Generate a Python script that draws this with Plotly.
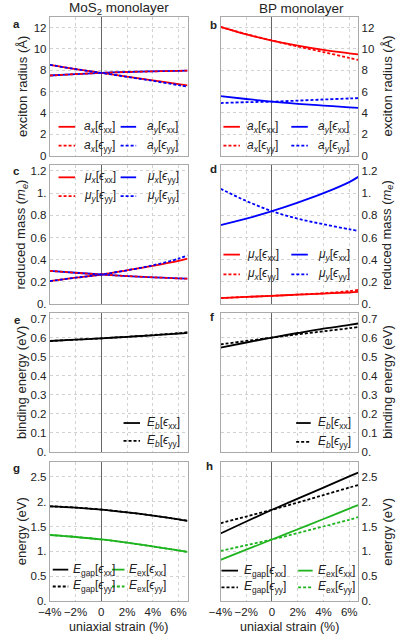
import plotly.graph_objects as go

# ── data ────────────────────────────────────────────────────────────────────
strain = [-4, -2, 0, 2, 4, 6, 6.7]

# exciton radius (Å)
mos2_ax_xx = [8.5, 8.1, 7.75, 7.4, 7.05, 6.7, 6.58]
mos2_ax_yy = [7.5, 7.63, 7.75, 7.83, 7.89, 7.94, 7.96]
mos2_ay_xx = [7.5, 7.63, 7.75, 7.83, 7.89, 7.94, 7.96]
mos2_ay_yy = [8.5, 8.1, 7.75, 7.38, 7.0, 6.6, 6.45]
bp_ax_xx = [12.05, 11.35, 10.78, 10.3, 9.9, 9.58, 9.48]
bp_ax_yy = [12.05, 11.38, 10.78, 10.22, 9.7, 9.15, 8.96]
bp_ay_xx = [5.57, 5.3, 5.05, 4.85, 4.68, 4.52, 4.47]
bp_ay_yy = [4.92, 5.0, 5.05, 5.15, 5.25, 5.35, 5.38]

# reduced mass (m_e)
mos2_mux_xx = [0.208, 0.238, 0.267, 0.305, 0.345, 0.39, 0.41]
mos2_mux_yy = [0.30, 0.283, 0.267, 0.253, 0.242, 0.232, 0.229]
mos2_muy_yy_r = [0.30, 0.283, 0.267, 0.253, 0.242, 0.232, 0.229]
mos2_muy_yy_b = [0.208, 0.238, 0.267, 0.305, 0.35, 0.41, 0.44]
bp_mux_xx = [0.055, 0.065, 0.075, 0.085, 0.095, 0.105, 0.11]
bp_mux_yy = [0.055, 0.065, 0.075, 0.086, 0.098, 0.118, 0.128]
bp_muy_xx = [0.712, 0.77, 0.838, 0.915, 1.0, 1.1, 1.147]
bp_muy_yy = [1.04, 0.93, 0.838, 0.77, 0.72, 0.675, 0.66]

# binding energy (eV)
mos2_eb_xx = [0.583, 0.59, 0.597, 0.605, 0.613, 0.622, 0.626]
mos2_eb_yy = [0.583, 0.59, 0.597, 0.605, 0.614, 0.624, 0.629]
bp_eb_xx = [0.548, 0.575, 0.601, 0.625, 0.648, 0.668, 0.675]
bp_eb_yy = [0.565, 0.583, 0.601, 0.618, 0.634, 0.65, 0.656]

# energy (eV)
mos2_gap_xx = [1.905, 1.88, 1.84, 1.785, 1.72, 1.645, 1.615]
mos2_gap_yy = [1.905, 1.88, 1.84, 1.785, 1.72, 1.645, 1.615]
mos2_ex_xx = [1.33, 1.29, 1.24, 1.175, 1.1, 1.02, 0.99]
mos2_ex_yy = [1.33, 1.29, 1.24, 1.175, 1.1, 1.02, 0.99]
bp_gap_xx = [1.36, 1.60, 1.835, 2.06, 2.28, 2.505, 2.58]
bp_gap_yy = [1.565, 1.70, 1.835, 1.98, 2.13, 2.28, 2.33]
bp_ex_xx = [0.83, 1.035, 1.24, 1.445, 1.65, 1.86, 1.93]
bp_ex_yy = [1.01, 1.125, 1.24, 1.37, 1.5, 1.635, 1.69]

x_tickvals = [-4, -2, 0, 2, 4, 6]
x_ticktext = ["−4%", "−2%", "0", "2%", "4%", "6%"]
y_ticks = [
    ([0, 2, 4, 6, 8, 10, 12], ["0", "2", "4", "6", "8", "10", "12"]),
    ([0, 0.2, 0.4, 0.6, 0.8, 1.0, 1.2], ["0.", "0.2", "0.4", "0.6", "0.8", "1.", "1.2"]),
    ([0, 0.1, 0.2, 0.3, 0.4, 0.5, 0.6, 0.7], ["0.", "0.1", "0.2", "0.3", "0.4", "0.5", "0.6", "0.7"]),
    ([0, 0.5, 1.0, 1.5, 2.0, 2.5], ["0.", "0.5", "1.", "1.5", "2.", "2.5"]),
]
y_ranges = [13, 1.25, 0.73, 2.8]
y_titles = ["exciton radius (Å)", "reduced mass (<i>m<sub>e</sub></i>)",
            "binding energy (eV)", "energy (eV)"]

# ── estilo ──────────────────────────────────────────────────────────────────
W, H = 398, 643
FONT = "Liberation Sans, Arial, sans-serif"
RED, BLUE, BLACK, GREEN = "#ff0000", "#0000ff", "#000000", "#1fb41f"
DASH = "3px,2px"
COLS = [(39, 181), (215, 357)]
ROWS = [(17, 157), (167, 307), (316, 456), (466, 607)]
TICK_SIZE = 11.5
LEG_SIZE = 12


def px_x(p):
    return p / W


def px_y(p):
    return 1 - p / H


fig = go.Figure()

# panel index: 1=a 2=b 3=c 4=d 5=e 6=f 7=g 8=h
series = [
    (1, mos2_ax_xx, RED, "solid"), (1, mos2_ay_xx, BLUE, "solid"),
    (1, mos2_ax_yy, RED, DASH), (1, mos2_ay_yy, BLUE, DASH),
    (2, bp_ax_xx, RED, "solid"), (2, bp_ay_xx, BLUE, "solid"),
    (2, bp_ax_yy, RED, DASH), (2, bp_ay_yy, BLUE, DASH),
    (3, mos2_mux_xx, RED, "solid"), (3, mos2_mux_yy, BLUE, "solid"),
    (3, mos2_muy_yy_r, RED, DASH), (3, mos2_muy_yy_b, BLUE, DASH),
    (4, bp_mux_xx, RED, "solid"), (4, bp_muy_xx, BLUE, "solid"),
    (4, bp_mux_yy, RED, DASH), (4, bp_muy_yy, BLUE, DASH),
    (5, mos2_eb_xx, BLACK, "solid"), (5, mos2_eb_yy, BLACK, DASH),
    (6, bp_eb_xx, BLACK, "solid"), (6, bp_eb_yy, BLACK, DASH),
    (7, mos2_gap_xx, BLACK, "solid"), (7, mos2_ex_xx, GREEN, "solid"),
    (7, mos2_gap_yy, BLACK, DASH), (7, mos2_ex_yy, GREEN, DASH),
    (8, bp_gap_xx, BLACK, "solid"), (8, bp_ex_xx, GREEN, "solid"),
    (8, bp_gap_yy, BLACK, DASH), (8, bp_ex_yy, GREEN, DASH),
]
for p, ys, color, dash in series:
    sfx = "" if p == 1 else str(p)
    fig.add_trace(go.Scatter(
        x=strain, y=ys, mode="lines", line_shape="spline",
        line=dict(color=color, width=1.8, dash=dash),
        xaxis="x" + sfx, yaxis="y" + sfx, showlegend=False, hoverinfo="skip",
    ))

layout = dict(
    width=W, height=H, margin=dict(l=0, r=0, t=0, b=0),
    paper_bgcolor="white", plot_bgcolor="white",
    font=dict(family=FONT, size=TICK_SIZE, color="#222"),
    showlegend=False,
)
for p in range(1, 9):
    r, c = (p - 1) // 2, (p - 1) % 2
    sfx = "" if p == 1 else str(p)
    x0, x1 = COLS[c]
    y0, y1 = ROWS[r]
    layout["xaxis" + sfx] = dict(
        domain=[px_x(x0), px_x(x1)], range=[-4, 6.7], anchor="y" + sfx,
        tickvals=x_tickvals, ticktext=x_ticktext, showticklabels=(r == 3),
        showgrid=True, gridcolor="#d2d2d2", griddash="dot", gridwidth=1,
        zeroline=True, zerolinecolor="#666", zerolinewidth=1,
        showline=True, linecolor="#aaaaaa", linewidth=1, mirror=True,
        ticks="", tickfont=dict(size=TICK_SIZE, color="#222"),
    )
    layout["yaxis" + sfx] = dict(
        domain=[px_y(y1), px_y(y0)], range=[0, y_ranges[r]], anchor="x" + sfx,
        tickvals=y_ticks[r][0], ticktext=y_ticks[r][1],
        side="left" if c == 0 else "right",
        showgrid=True, gridcolor="#d2d2d2", griddash="dot", gridwidth=1,
        zeroline=False, showline=True, linecolor="#aaaaaa", linewidth=1,
        mirror=True, ticks="", tickfont=dict(size=TICK_SIZE, color="#222"),
    )
fig.update_layout(**layout)

ann = []
shapes = []


def text(x, y, s, size=12, xanchor="center", angle=0, bold=False):
    if bold:
        s = "<b>" + s + "</b>"
    ann.append(dict(x=px_x(x), y=px_y(y), xref="paper", yref="paper", text=s,
                    showarrow=False, xanchor=xanchor, yanchor="middle",
                    textangle=angle, font=dict(family=FONT, size=size, color="#222")))


def leg(x0, x1, y, color, dash, label, xt):
    shapes.append(dict(type="line", xref="paper", yref="paper",
                       x0=px_x(x0), x1=px_x(x1), y0=px_y(y), y1=px_y(y),
                       line=dict(color=color, width=1.8, dash=dash)))
    text(xt, y, label, size=LEG_SIZE, xanchor="left")


def lab(sym, sub, eps):
    return f"<i>{sym}</i><sub>{sub}</sub>[<i>ϵ</i><sub>{eps}</sub>]"


# titles, panel letters, axis titles
text(110, 9, "MoS<sub>2</sub> monolayer", size=13.5)
text(298, 9, "BP monolayer", size=13.5)
for s, (x, y) in zip("abcdefgh", [(5, 24), (208, 25), (5, 173), (208, 171),
                                   (5, 323), (206, 320), (5, 472), (204, 470)]):
    text(x, y, s, size=11.5, bold=True)
for r in range(4):
    yc = (ROWS[r][0] + ROWS[r][1]) / 2
    text(10, yc, y_titles[r], size=13, angle=-90)
    text(387, yc, y_titles[r], size=13, angle=-90)
text(110, 633, "uniaxial strain (%)", size=12.5)
text(286, 633, "uniaxial strain (%)", size=12.5)

# legends
for y, l1, l2, d in [(128, ("a", "<i>x</i>", "xx"), ("a", "<i>y</i>", "xx"), "solid"),
                     (147, ("a", "<i>x</i>", "yy"), ("a", "<i>y</i>", "yy"), DASH)]:
    leg(48, 65, y, RED, d, lab(*l1), 72)
    leg(112, 128, y, BLUE, d, lab(*l2), 137)
    leg(218, 235, y, RED, d, lab(*l1), 240)
    leg(288, 305, y, BLUE, d, lab(*l2), 313)

leg(48, 65, 179, RED, "solid", lab("μ", "<i>x</i>", "xx"), 72)
leg(112, 128, 179, BLUE, "solid", lab("μ", "<i>x</i>", "yy"), 137)
leg(48, 65, 198, RED, DASH, lab("μ", "<i>y</i>", "yy"), 72)
leg(112, 128, 198, BLUE, DASH, lab("μ", "<i>y</i>", "yy"), 137)

leg(218, 235, 257, RED, "solid", lab("μ", "<i>x</i>", "xx"), 240)
leg(288, 305, 257, BLUE, "solid", lab("μ", "<i>y</i>", "xx"), 313)
leg(218, 235, 277, RED, DASH, lab("μ", "<i>x</i>", "yy"), 240)
leg(288, 305, 277, BLUE, DASH, lab("μ", "<i>y</i>", "yy"), 313)

leg(115, 132, 427, BLACK, "solid", lab("E", "<i>b</i>", "xx"), 137)
leg(115, 132, 445, BLACK, DASH, lab("E", "<i>b</i>", "yy"), 137)
leg(293, 308, 427, BLACK, "solid", lab("E", "<i>b</i>", "xx"), 313)
leg(293, 308, 446, BLACK, DASH, lab("E", "<i>b</i>", "yy"), 313)

leg(42, 58, 575, BLACK, "solid", lab("E", "gap", "xx"), 61)
leg(103, 116, 575, GREEN, "solid", lab("E", "ex", "xx"), 119)
leg(42, 58, 592, BLACK, DASH, lab("E", "gap", "yy"), 61)
leg(103, 116, 592, GREEN, DASH, lab("E", "ex", "yy"), 119)
leg(216, 233, 576, BLACK, "solid", lab("E", "gap", "xx"), 237)
leg(295, 310, 576, GREEN, "solid", lab("E", "ex", "xx"), 313)
leg(216, 233, 593, BLACK, DASH, lab("E", "gap", "yy"), 237)
leg(295, 310, 593, GREEN, DASH, lab("E", "ex", "yy"), 313)

fig.update_layout(annotations=ann, shapes=shapes)
# la página trae margen de 8px en <body>; se quita para que el lienzo empiece en (0, 0)
fig.write_html("out.html", config={"displayModeBar": False},
               post_script="document.body.style.margin='0px';")
